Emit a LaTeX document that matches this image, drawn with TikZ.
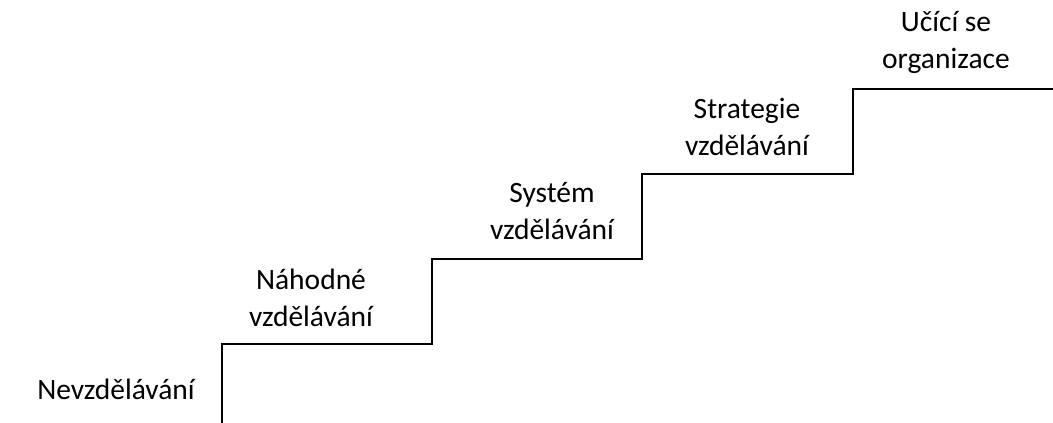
\documentclass[tikz,border=0pt]{standalone}
\usepackage{fontspec}
\setmainfont{Carlito}
\begin{document}
\begin{tikzpicture}[x=1pt,y=1pt,
  lbl/.style={align=center,font=\fontsize{29.5}{37}\selectfont,inner sep=0pt},
  stair/.style={line width=2pt,line cap=butt,line join=miter}]
\useasboundingbox (0,0) rectangle (1053,423);
\coordinate (s0) at (221.5,0);
\coordinate (s1) at (221.5,79);
\coordinate (s2) at (432,79);
\coordinate (s3) at (432,164);
\coordinate (s4) at (642,164);
\coordinate (s5) at (642,249);
\coordinate (s6) at (853,249);
\coordinate (s7) at (853,334);
\coordinate (s8) at (1053,334);
\draw[stair] (s0) -- (s1) -- (s2) -- (s3) -- (s4) -- (s5) -- (s6) -- (s7) -- (s8);
\node[lbl] (n0) at (116,34) {Nevzdělávání};
\node[lbl] (n1) at (311,125) {Náhodné\\vzdělávání};
\node[lbl] (n2) at (552,212) {Systém\\vzdělávání};
\node[lbl] (n3) at (747,296) {Strategie\\vzdělávání};
\node[lbl] (n4) at (946,381) {Učící se\\organizace};
\end{tikzpicture}
\end{document}
